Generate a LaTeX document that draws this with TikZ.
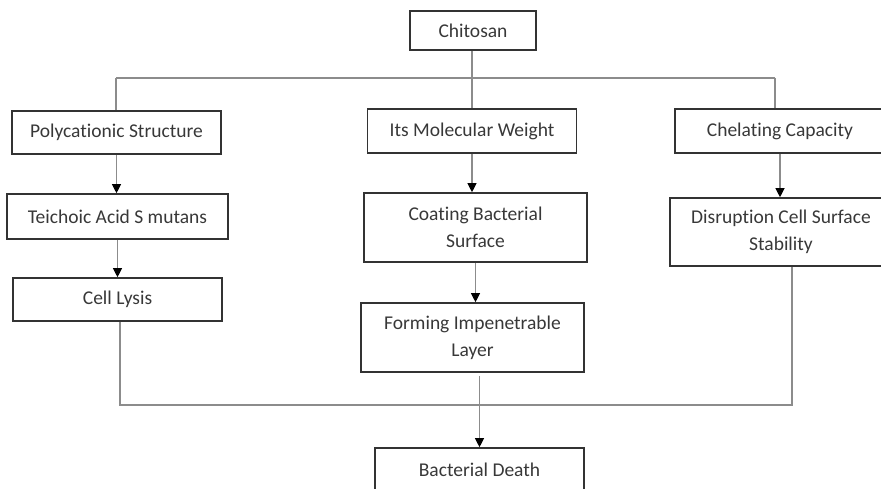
\documentclass[tikz,border=0pt]{standalone}
\usepackage{fontspec}
\setmainfont{Carlito}[Ligatures=NoCommon]
\usetikzlibrary{arrows.meta}
\definecolor{boxline}{HTML}{333333}
\definecolor{wire}{HTML}{8C8C8C}
\definecolor{ink}{HTML}{383838}

\begin{document}
\begin{tikzpicture}[x=1pt, y=-1pt,
      box/.style={draw=boxline, line width=1.6pt, inner sep=0pt, align=center,
         text=ink, font=\fontsize{19.5}{27}\selectfont},
      wire/.style={draw=wire, line width=1.1pt},
      flow/.style={wire, -{Triangle[width=9pt, length=9pt, color=black]}}]
   \useasboundingbox (0,0) rectangle (881,489);
   \clip (0,0) rectangle (881,489);
      \def \Boxes {
         chitosan/473/30.5/126/39/{Chitosan},
         poly/116.5/132.5/209/43/{Polycationic Structure},
         weight/472/131/209/44/{Its Molecular Weight},
         chelating/780/131/210/44/{Chelating Capacity},
         teichoic/117.5/216.5/221/45/{Teichoic Acid S mutans},
         lysis/117.5/299.5/209/43/{Cell Lysis},
         coating/475.5/227.5/223/69/{Coating Bacterial\\Surface},
         forming/472.5/337.5/223/69/{Forming Impenetrable\\Layer},
         disruption/781/232/222/68/{Disruption Cell Surface\\Stability},
         death/479.5/470/209/44/{Bacterial Death}}
      \def \Arrows {
         poly/teichoic,
         teichoic/lysis,
         weight/coating,
         coating/forming,
         chelating/disruption}
      \foreach \n / \x / \y / \w / \h / \t in \Boxes {
         \node[box, minimum width=\w pt, minimum height=\h pt] (\n) at (\x, \y) {\t};
      }
      % branches from the top
      \coordinate (busL) at (116, 78);
      \coordinate (busM) at (472, 78);
      \coordinate (busR) at (775, 78);
      \path[wire] (busL) -- (busR);
      \path[wire] (chitosan.south -| busM) -- (busM |- weight.north);
      \path[wire] (busL) -- (busL |- poly.north);
      \path[wire] (busR) -- (busR |- chelating.north);
      \foreach \u / \v in \Arrows {
         \path[flow] (\u.south) -- (\u.south |- \v.north);
      }
      % joining to the bottom
      \coordinate (joinL) at (120, 405);
      \coordinate (joinR) at (792, 405);
      \path[wire] (joinL |- lysis.south) -- (joinL) -- (joinR) -- (joinR |- disruption.south);
      \path[flow] ([yshift=-3pt]death.north |- forming.south) -- (death.north);
\end{tikzpicture}
\end{document}
